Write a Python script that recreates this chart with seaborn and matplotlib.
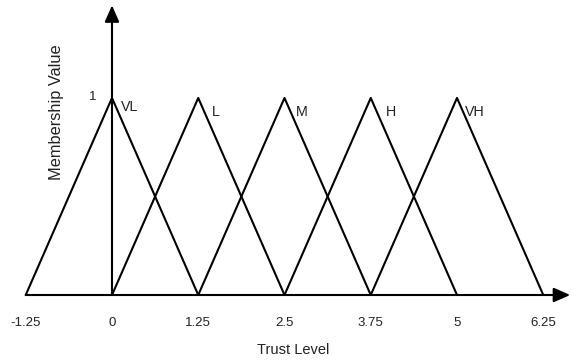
import pandas as pd
import seaborn as sns
import matplotlib.pyplot as plt

# fuzzy sets: name, left foot, peak, right foot
sets = ["VL", "L", "M", "H", "VH"]
left = [-1.25, 0, 1.25, 2.5, 3.75]
peak = [0, 1.25, 2.5, 3.75, 5]
right = [1.25, 2.5, 3.75, 5, 6.25]
ticks = [-1.25, 0, 1.25, 2.5, 3.75, 5, 6.25]
tick_labels = ["-1.25", "0", "1.25", "2.5", "3.75", "5", "6.25"]

rows = []
for s, a, b, c in zip(sets, left, peak, right):
    rows += [(s, a, 0), (s, b, 1), (s, c, 0)]
df = pd.DataFrame(rows, columns=["set", "x", "mu"])

sns.set_theme(style="white")
plt.rcParams['font.family'] = ['Liberation Sans', 'DejaVu Sans']

fig = plt.figure(figsize=(5.73, 3.63), dpi=100)
ax = fig.add_axes([0, 0, 1, 1])

sns.lineplot(data=df, x="x", y="mu", units="set", estimator=None, sort=False,
             color="black", lw=1.5, legend=False, ax=ax)

ax.set_xlim(-1.623, 6.681)
ax.set_ylim(-0.345, 1.497)
ax.axis("off")

# axes with arrows
arrow = dict(arrowstyle="-|>,head_length=0.5,head_width=0.22", lw=1.5, color="black",
             mutation_scale=20, shrinkA=0, shrinkB=0)
ax.annotate("", xy=(6.64, 0), xytext=(-1.25, 0), arrowprops=arrow)
ax.annotate("", xy=(0, 1.47), xytext=(0, 0), arrowprops=arrow)

fs = 9.5
for t, lab in zip(ticks, tick_labels):
    ax.text(t, -0.142, lab, ha="center", va="center", fontsize=fs, color="#222222")

ax.text(-0.275, 1.005, "1", ha="center", va="center", fontsize=fs, color="#222222")

label_dx = [0.13, 0.2, 0.17, 0.22, 0.12]
label_y = [0.955, 0.93, 0.93, 0.93, 0.93]
for s, p, dx, y in zip(sets, peak, label_dx, label_y):
    ax.text(p + dx, y, s, ha="left", va="center", fontsize=10.3, color="#222222")

ax.text(2.62, -0.28, "Trust Level", ha="center", va="center", fontsize=10.5, color="#222222")
ax.text(-0.80, 0.93, "Membership Value", ha="center", va="center", rotation=90,
        fontsize=11.8, color="#222222")

fig.savefig("out.png", dpi=100)
